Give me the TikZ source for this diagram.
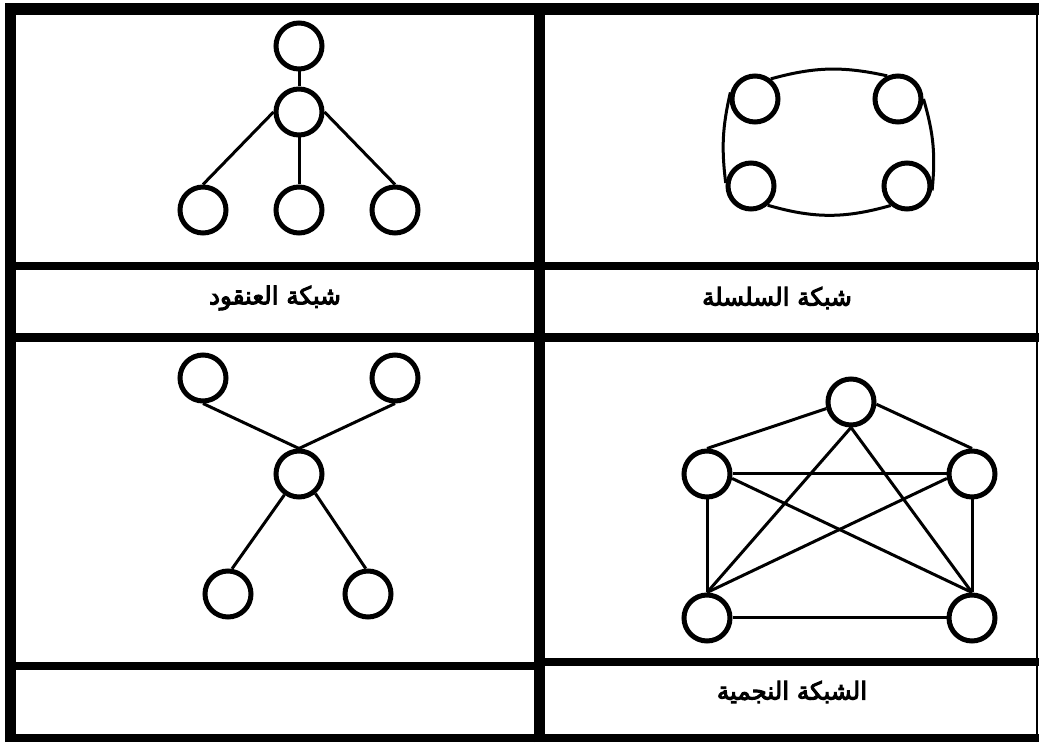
\documentclass[tikz,border=0pt]{standalone}
\usepackage{fontspec}
\newfontfamily\arabicfont[Script=Arabic,BoldFont={DejaVu Sans},BoldFeatures={FakeBold=4}]{DejaVu Sans}
\TeXXeTstate=1

\tikzset{
  nd/.style={circle,draw,line width=5pt,minimum size=46pt,inner sep=0pt},
  lnk/.style={line width=3pt},
  frm/.style={line width=#1}
}
\tikzstyle{every node}=[font=\arabicfont\bfseries\fontsize{24.5}{28}\selectfont]

\begin{document}
\begin{tikzpicture}[x=1pt,y=1pt]
    \useasboundingbox (0,0) rectangle (1039,742);
    % frame
    \draw[frm=12pt] (5,733) -- (1039,733);
    \draw[frm=11pt] (10.5,0) -- (10.5,739);
    \draw[frm=2.5pt] (1037,0) -- (1037,727);
    \draw[frm=8pt] (5,4) -- (1039,4);
    \draw[frm=11pt] (539,0) -- (539,739);
    \draw[frm=8pt] (5,476) -- (1039,476);
    \draw[frm=9pt] (5,404.5) -- (1039,404.5);
    \draw[frm=8pt] (5,76) -- (539,76);
    \draw[frm=8pt] (539,80) -- (1039,80);
    % tree
    \node[nd] (T0) at (299,696) {};
    \node[nd] (T1) at (299,630) {};
    \node[nd] (T2) at (203,532) {};
    \node[nd] (T3) at (299,532) {};
    \node[nd] (T4) at (395,532) {};
    \draw[lnk] (T0) -- (T1);
    \draw[lnk] (T1.west) -- (T2.north);
    \draw[lnk] (T1) -- (T3);
    \draw[lnk] (T1.east) -- (T4.north);
    % ring
    \node[nd] (R1) at (755,643) {};
    \node[nd] (R2) at (898,643) {};
    \node[nd] (R3) at (751,556) {};
    \node[nd] (R4) at (907,556) {};
    \draw[lnk] (R1.52) to[bend left=14] (R2.115);
    \draw[lnk] (R3.-49) to[bend right=16] (R4.230);
    \draw[lnk] (R1.165) to[bend right=10] (R3.173);
    \draw[lnk] (R2.0) to[bend left=11] (R4.-10);
    % star
    \node[nd] (S0) at (299,268) {};
    \node[nd] (S1) at (203,364) {};
    \node[nd] (S2) at (395,364) {};
    \node[nd] (S3) at (228,148) {};
    \node[nd] (S4) at (368,148) {};
    \draw[lnk] (S1.south) -- (S0.north);
    \draw[lnk] (S2.south) -- (S0.north);
    \draw[lnk] (S0.235) -- (S3.81);
    \draw[lnk] (S0.310) -- (S4.95);
    % mesh
    \node[nd] (M0) at (851,340) {};
    \node[nd] (M1) at (707,268) {};
    \node[nd] (M2) at (972,268) {};
    \node[nd] (M3) at (707,124) {};
    \node[nd] (M4) at (972,124) {};
    \draw[lnk] (M0.195) -- (M1.north);
    \draw[lnk] (M0.-5) -- (M2.north);
    \draw[lnk] (M0.south) -- (M3.north);
    \draw[lnk] (M0.south) -- (M4.north);
    \draw[lnk] (M1.east) -- (M2.west);
    \draw[lnk] (M1.-10) -- (M4.north);
    \draw[lnk] (M2.190) -- (M3.north);
    \draw[lnk] (M1) -- (M3);
    \draw[lnk] (M2) -- (M4);
    \draw[lnk] (M3) -- (M4);
    % labels
    \node (L1) at (275,444) {\beginR شبكة العنقود\endR};
    \node (L2) at (777,444) {\beginR شبكة السلسلة\endR};
    \node (L3) at (792,50) {\beginR الشبكة النجمية\endR};
\end{tikzpicture}
\end{document}
